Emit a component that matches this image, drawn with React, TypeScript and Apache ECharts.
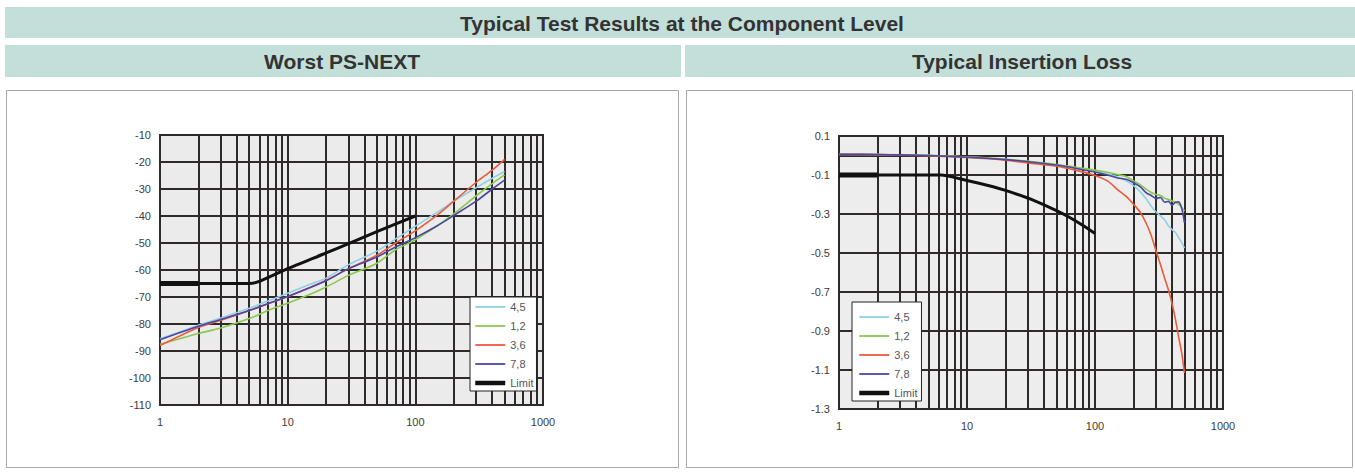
import React, { useEffect, useRef } from "react";
import * as echarts from "echarts";

// ---------- Worst PS-NEXT (dB vs MHz) ----------
const psFreq = [1, 2, 3, 5, 7, 10, 15, 20, 30, 50, 70, 100, 150, 200, 300, 400, 500];
const ps45 = [-85.5, -80.5, -77.8, -74.2, -71.5, -68.6, -65.3, -63, -58, -53, -48.5, -43.8, -38.5, -34.5, -29.5, -26, -23.5];
const ps12 = [-87.5, -83.5, -81.5, -78, -75, -72.3, -69, -66.3, -62, -57.5, -52.5, -48.8, -43.5, -39.2, -32.5, -28, -24.8];
const ps36 = [-88, -81.3, -78.6, -75, -72.5, -69.9, -66.5, -63.8, -59.5, -54.5, -50, -45.5, -39.5, -34.5, -27.5, -23, -19];
const ps78 = [-85.8, -80.8, -78.3, -75, -72.5, -69.8, -66.5, -64, -59.5, -55.2, -51.5, -48, -43.5, -39.8, -34.5, -30, -26.7];
const psLimitFreq = [1, 2, 5, 6, 10, 20, 30, 50, 100];
const psLimit = [-65, -65, -65, -64.2, -59.5, -53.7, -50.2, -45.8, -40];
const psYTicks = { min: -110, max: -10, step: 10 };

// ---------- Typical Insertion Loss (dB vs MHz) ----------
const ilFreq = [1, 2, 3, 5, 7, 10, 15, 20, 30, 50, 70, 100, 125, 150, 175, 200, 225, 250, 275, 300, 325, 350, 375, 400, 425, 450, 475, 500];
const il45 = [0.008, 0.006, 0.004, 0.001, -0.003, -0.008, -0.014, -0.02, -0.031, -0.048, -0.062, -0.08, -0.095, -0.11, -0.13, -0.155, -0.185, -0.22, -0.26, -0.29, -0.31, -0.33, -0.36, -0.38, -0.395, -0.42, -0.445, -0.475];
const il12 = [0.006, 0.005, 0.003, 0.001, -0.003, -0.008, -0.013, -0.019, -0.03, -0.046, -0.06, -0.075, -0.086, -0.098, -0.108, -0.13, -0.15, -0.172, -0.19, -0.2, -0.205, -0.22, -0.225, -0.233, -0.24, -0.25, -0.265, -0.285];
const il36 = [0.005, 0.004, 0.002, -0.001, -0.005, -0.01, -0.017, -0.024, -0.038, -0.055, -0.075, -0.102, -0.13, -0.175, -0.21, -0.25, -0.29, -0.345, -0.41, -0.49, -0.56, -0.63, -0.69, -0.76, -0.84, -0.93, -1.01, -1.115];
const il78 = [0.006, 0.005, 0.003, 0.0, -0.004, -0.009, -0.015, -0.021, -0.032, -0.049, -0.065, -0.085, -0.1, -0.115, -0.122, -0.14, -0.16, -0.19, -0.205, -0.22, -0.215, -0.24, -0.235, -0.255, -0.24, -0.238, -0.27, -0.345];
const ilLimitFreq = [1, 2, 6.25, 10, 16, 20, 31.5, 50, 63, 80, 100];
const ilLimit = [-0.1, -0.1, -0.1, -0.128, -0.16, -0.179, -0.224, -0.283, -0.317, -0.358, -0.4];
const ilYTicks = { min: -1.3, max: 0.1, step: 0.2 };

// ---------- shared ----------
const freqMinorLines = [2, 3, 4, 5, 6, 7, 8, 9, 20, 30, 40, 50, 60, 70, 80, 90, 200, 300, 400, 500, 600, 700, 800, 900];
const seriesNames = ["4,5", "1,2", "3,6", "7,8", "Limit"];
const seriesColors = ["#8fd0e6", "#8cc850", "#ee5a3c", "#4a48a0", "#111111"];
const mainTitle = "Typical Test Results at the Component Level";
const leftTitle = "Worst PS-NEXT";
const rightTitle = "Typical Insertion Loss";

const FONT = '"Liberation Sans", Arial, sans-serif';
const GRID_COLOR = "#2f2a2a";
const BAR_COLOR = "#c3dfd9";

function pairs(xs: number[], ys: number[]) {
  return xs.map((x, i) => [x, ys[i]]);
}

export default function App() {
  const ref = useRef<HTMLDivElement>(null);

  useEffect(() => {
    if (!ref.current) return;
    const chart = echarts.init(ref.current, undefined, { renderer: "svg" });

    const xAxisBase = (gridIndex: number) => ({
      type: "log",
      logBase: 10,
      gridIndex,
      min: 1,
      max: 1000,
      axisLine: { show: false },
      axisTick: { show: false },
      axisLabel: {
        margin: 11,
        fontSize: 11,
        color: "#3c3c3c",
        fontFamily: FONT,
        showMinLabel: true,
        showMaxLabel: true,
        formatter: (v: number) => String(Math.round(v)),
      },
      splitLine: { show: true, lineStyle: { color: GRID_COLOR, width: 2 } },
    });

    const yAxisBase = (gridIndex: number, t: { min: number; max: number; step: number }, digits: number) => ({
      type: "value",
      gridIndex,
      min: t.min,
      max: t.max,
      interval: t.step,
      axisLine: { show: false },
      axisTick: { show: false },
      axisLabel: {
        margin: 9,
        fontSize: 11,
        color: "#3c3c3c",
        fontFamily: FONT,
        formatter: (v: number) => v.toFixed(digits),
      },
      splitLine: { show: true, lineStyle: { color: GRID_COLOR, width: 2 } },
    });

    const curve = (name: string, color: string, data: number[][], idx: number, width = 1.6, smooth: boolean | number = 0.3) => ({
      type: "line",
      name,
      xAxisIndex: idx,
      yAxisIndex: idx,
      data,
      symbol: "none",
      smooth,
      silent: true,
      z: 5,
      lineStyle: { color, width },
      itemStyle: { color },
    });

    const gridLines = (idx: number, extraY: number[]) => ({
      type: "line",
      name: "grid" + idx,
      xAxisIndex: idx,
      yAxisIndex: idx,
      data: [],
      silent: true,
      z: 1,
      markLine: {
        silent: true,
        symbol: ["none", "none"],
        label: { show: false },
        lineStyle: { color: GRID_COLOR, width: 2, type: "solid" },
        emphasis: { disabled: true },
        data: [
          ...freqMinorLines.map((v) => ({ xAxis: v })),
          ...extraY.map((v) => ({ yAxis: v })),
        ],
      },
    });

    const buildSeries = (idx: number, fx: number[], ys: number[][], lx: number[], ly: number[]) => [
      gridLines(idx, idx === 1 ? [0] : []),
      curve(seriesNames[4], seriesColors[4], pairs(lx.slice(0, 2), ly.slice(0, 2)), idx, 5, false),
      curve(seriesNames[4], seriesColors[4], pairs(lx.slice(1), ly.slice(1)), idx, 3, 0.2),
      ...ys.map((y, i) => curve(seriesNames[i], seriesColors[i], pairs(fx, y), idx)),
    ];

    const legendData = seriesNames.map((name, i) => ({
      name,
      lineStyle: { width: i === 4 ? 4.5 : 1.8, color: seriesColors[i] },
    }));

    const legendBase = (left: number, top: number, padding: number[]) => ({
      left,
      top,
      z: 20,
      orient: "vertical",
      data: legendData,
      selectedMode: false,
      backgroundColor: "#ffffff",
      borderColor: "#222",
      borderWidth: 1,
      borderRadius: 0,
      padding,
      itemWidth: 30,
      itemHeight: 10,
      itemGap: 7,
      itemStyle: { opacity: 0 },
      textStyle: { fontSize: 11, lineHeight: 12, color: "#555", fontFamily: FONT },
    });

    chart.setOption({
      animation: false,
      backgroundColor: "#ffffff",
      textStyle: { fontFamily: FONT },
      graphic: [
        { type: "rect", shape: { x: 5, y: 7, width: 1350, height: 31 }, style: { fill: BAR_COLOR }, silent: true },
        { type: "rect", shape: { x: 5, y: 45, width: 676, height: 32 }, style: { fill: BAR_COLOR }, silent: true },
        { type: "rect", shape: { x: 685, y: 45, width: 670, height: 32 }, style: { fill: BAR_COLOR }, silent: true },
        { type: "rect", shape: { x: 6.5, y: 90.5, width: 672, height: 377 }, style: { fill: "none", stroke: "#a8a8a8", lineWidth: 1 }, silent: true },
        { type: "rect", shape: { x: 686.5, y: 90.5, width: 666, height: 377 }, style: { fill: "none", stroke: "#a8a8a8", lineWidth: 1 }, silent: true },
        { type: "text", x: 682, y: 23, style: { text: mainTitle, font: `bold 21px ${FONT}`, fill: "#333", align: "center", verticalAlign: "middle" }, silent: true },
        { type: "text", x: 342, y: 61, style: { text: leftTitle, font: `bold 21px ${FONT}`, fill: "#333", align: "center", verticalAlign: "middle" }, silent: true },
        { type: "text", x: 1022, y: 61, style: { text: rightTitle, font: `bold 21px ${FONT}`, fill: "#333", align: "center", verticalAlign: "middle" }, silent: true },
      ],
      grid: [
        { left: 160, top: 135, width: 383, height: 270, show: true, backgroundColor: "#ebebeb", borderColor: GRID_COLOR, borderWidth: 2 },
        { left: 839, top: 136, width: 384, height: 273, show: true, backgroundColor: "#ededed", borderColor: GRID_COLOR, borderWidth: 2 },
      ],
      xAxis: [xAxisBase(0), xAxisBase(1)],
      yAxis: [yAxisBase(0, psYTicks, 0), yAxisBase(1, ilYTicks, 1)],
      legend: [
        legendBase(470, 297, [4, 3, 2, 3]),
        legendBase(852, 302, [9, 4, 2, 5]),
      ],
      series: [
        ...buildSeries(0, psFreq, [ps45, ps12, ps36, ps78], psLimitFreq, psLimit),
        ...buildSeries(1, ilFreq, [il45, il12, il36, il78], ilLimitFreq, ilLimit),
      ],
    });

    return () => chart.dispose();
  }, []);

  return (
    <div
      ref={ref}
      style={{ position: "absolute", left: 0, top: 0, width: 1355, height: 473, background: "#fff" }}
    />
  );
}
